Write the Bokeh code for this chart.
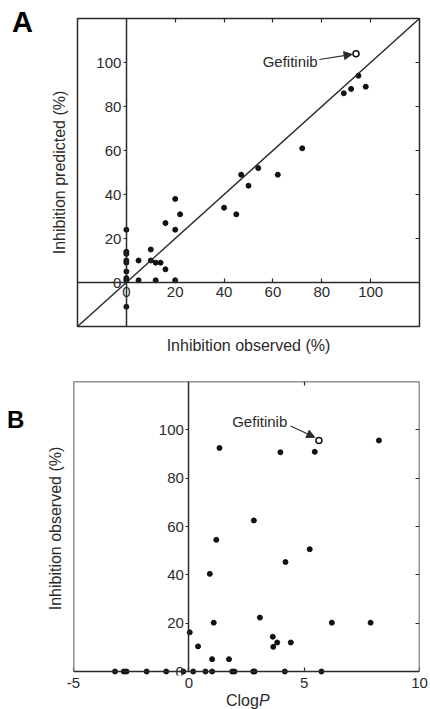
from bokeh.plotting import figure
from bokeh.models import LinearAxis, FixedTicker, Slope, Arrow, NormalHead, Label, Range1d, Div
from bokeh.layouts import column, row
from bokeh.embed import file_html
from bokeh.resources import INLINE

FONT = "Liberation Sans"
INK = "#2a2a2a"

# ---------------- Panel A data ----------------
a_observed = [0, 0, 0, 0, 0, 0, 0, 0, 0,
              5, 5, 10, 10, 12, 14, 16, 12, 20, 22, 16, 20, 20, 40, 45,
              47, 50, 54, 62, 72, 89, 92, 95, 98]
a_predicted = [24, 14, 13, 10, 9, 5, 2, 1, -11,
               10, 1, 15, 10, 9, 9, 6, 1, 38, 31, 27, 24, 1, 34, 31,
               49, 44, 52, 49, 61, 86, 88, 94, 89]
a_gef_observed = [94]
a_gef_predicted = [104]
a_ticks = [0, 20, 40, 60, 80, 100]
a_mirror_ticks = [20, 40, 60, 80, 100]
a_range = (-20, 120)

# ---------------- Panel B data ----------------
b_clogp = [1.33, 3.97, 5.46, 8.24, 2.82, 1.19, 5.24, 4.19, 0.91, 3.08, 1.08,
           6.2, 7.88, 0.04, 3.64, 3.83, 4.42, 3.66, 0.4, 1.01, 1.74,
           -3.2, -2.82, -2.7, -1.83, -0.98, -0.24, 0.19, 0.72, 1.01, 1.88,
           1.98, 2.79, 2.85, 4.16, 5.75]
b_observed = [92.5, 90.7, 90.9, 95.6, 62.5, 54.5, 50.6, 45.3, 40.4, 22.3, 20.2,
              20.2, 20.2, 16.2, 14.4, 12, 12, 10.2, 10.4, 5.1, 5.1,
              0, 0, 0, 0, 0, 0, 0, 0, 0, 0,
              0, 0, 0, 0, 0]
b_gef_clogp = [5.64]
b_gef_observed = [95.6]
b_xticks = [-5, 0, 5, 10]
b_yticks = [0, 20, 40, 60, 80, 100]
b_top_ticks = [5]
b_right_ticks = [20, 40, 60, 80, 100]
b_xrange = (-5, 10)
b_ybounds = (0, 120)
b_yrange = (-1.65, 120)   # small pad below 0 so the dots sitting on 0 are not cut


def make_fig(xr, yr, fw, fh, left, right, top, bottom, outline=True):
    p = figure(frame_width=fw, frame_height=fh,
               x_range=Range1d(*xr), y_range=Range1d(*yr),
               x_axis_location=None, y_axis_location=None,
               toolbar_location=None, output_backend="svg",
               min_border_left=left, min_border_right=right,
               min_border_top=top, min_border_bottom=bottom,
               background_fill_color="white", border_fill_color="white")
    p.xgrid.grid_line_color = None
    p.ygrid.grid_line_color = None
    if outline:
        p.outline_line_color = INK
        p.outline_line_width = 1.5
        p.outline_line_alpha = 1.0
    else:
        p.outline_line_color = None
    return p


def tick_axis(ticks, fixed=None, tick_in=0, tick_out=0, standoff=4, labels=True,
              line=True, ticks_visible=True, bounds=None, overrides=None):
    ax = LinearAxis(ticker=FixedTicker(ticks=ticks, minor_ticks=[]))
    if fixed is not None:
        ax.fixed_location = fixed
    if bounds is not None:
        ax.bounds = bounds
    ax.axis_line_color = INK if line else None
    ax.axis_line_width = 1.5
    ax.major_tick_line_color = INK if ticks_visible else None
    ax.major_tick_line_width = 1.2
    ax.major_tick_in = tick_in
    ax.major_tick_out = tick_out
    ax.minor_tick_line_color = None
    ax.major_label_text_font = FONT
    ax.major_label_text_font_size = "15px"
    ax.major_label_text_color = INK
    ax.major_label_standoff = standoff
    if not labels:
        ax.major_label_overrides = {t: "" for t in ticks}
    elif overrides:
        ax.major_label_overrides = overrides
    return ax


def label_axis(text, standoff=10):
    ax = LinearAxis(ticker=FixedTicker(ticks=[], minor_ticks=[]))
    ax.axis_line_color = None
    ax.major_tick_line_color = None
    ax.minor_tick_line_color = None
    ax.axis_label = text
    ax.axis_label_text_font = FONT
    ax.axis_label_text_font_size = "16px"
    ax.axis_label_text_font_style = "normal"
    ax.axis_label_text_color = INK
    ax.axis_label_standoff = standoff
    return ax


def html_text(html, width, height, pad_top, pad_left, size, weight="normal",
              line_height=None, color="black"):
    lh = line_height if line_height is not None else size
    style = (f"margin:0;padding:{pad_top}px 0 0 {pad_left}px;font-family:'{FONT}';"
             f"font-size:{size}px;font-weight:{weight};line-height:{lh}px;"
             f"color:{color};white-space:nowrap;")
    return Div(text=f'<div style="{style}">{html}</div>', width=width, height=height,
               margin=(0, 0, 0, 0))


# ---------------- Panel A ----------------
pA = make_fig(a_range, a_range, 342, 308, 39, 10, 18, 29)
pA.add_layout(tick_axis(a_ticks, fixed=0, tick_in=4, tick_out=0, standoff=4), "below")
pA.add_layout(tick_axis(a_ticks, fixed=0, tick_in=0, tick_out=3, standoff=2), "left")
pA.add_layout(tick_axis(a_mirror_ticks, fixed=a_range[1], tick_in=4, labels=False, line=False), "above")
pA.add_layout(tick_axis(a_mirror_ticks, fixed=a_range[1], tick_in=4, labels=False, line=False), "right")
pA.add_layout(label_axis("Inhibition observed (%)", 10), "below")
pA.add_layout(label_axis("Inhibition predicted (%)", 10), "left")

pA.add_layout(Slope(gradient=1, y_intercept=0, line_color=INK, line_width=1.4))
pA.scatter(a_observed, a_predicted, size=5, color="#111111")
pA.scatter(a_gef_observed, a_gef_predicted, size=6, fill_color="white",
           line_color="#111111", line_width=1.5)
pA.add_layout(Label(x=55.8, y=100.6, text="Gefitinib", text_font=FONT,
                    text_font_size="15px", text_color=INK, text_baseline="middle"))
pA.add_layout(Arrow(x_start=79, y_start=101.4, x_end=92.4, y_end=103.7,
                    line_color=INK, line_width=1.1,
                    end=NormalHead(size=8, fill_color=INK, line_color=INK)))
divA = html_text("A", 38, 355, 8, 12, 29, weight="bold")

# ---------------- Panel B ----------------
pB = make_fig(b_xrange, b_yrange, 346, 294, 35, 10, 25, 19, outline=False)
# frame edges drawn as axes so that the bottom edge sits exactly at 0
pB.add_layout(tick_axis(b_xticks, fixed=0, tick_in=4, tick_out=0, labels=False), "below")
pB.add_layout(tick_axis(b_xticks, tick_in=0, tick_out=0, standoff=2, line=False,
                        ticks_visible=False, overrides={-5: "-5"}), "below")
pB.add_layout(tick_axis(b_top_ticks, fixed=b_ybounds[1], tick_in=4, labels=False), "above")
pB.add_layout(tick_axis([], fixed=b_xrange[0], labels=False, bounds=b_ybounds), "left")
pB.add_layout(tick_axis(b_right_ticks, fixed=b_xrange[1], tick_in=4, labels=False,
                        bounds=b_ybounds), "right")
pB.add_layout(tick_axis(b_yticks, fixed=0, tick_in=0, tick_out=3, standoff=2,
                        bounds=b_ybounds), "left")
pB.add_layout(label_axis("Inhibition observed (%)", 10), "left")

pB.scatter(b_clogp, b_observed, size=5, color="#111111")
pB.scatter(b_gef_clogp, b_gef_observed, size=6, fill_color="white",
           line_color="#111111", line_width=1.5)
pB.add_layout(Label(x=1.88, y=103.3, text="Gefitinib", text_font=FONT,
                    text_font_size="15px", text_color=INK, text_baseline="middle"))
pB.add_layout(Arrow(x_start=4.41, y_start=101.6, x_end=5.46, y_end=96.9,
                    line_color=INK, line_width=1.1,
                    end=NormalHead(size=8, fill_color=INK, line_color=INK)))
divB = html_text("B", 38, 338, 52, 7, 24, weight="bold")
divX = html_text("Clog<i>P</i>", 429, 15, 0, 226, 16, line_height=14, color=INK)

layout = column(row(divA, pA, spacing=0), row(divB, pB, spacing=0), divX, spacing=0)
open("out.html", "w").write(file_html(layout, INLINE))
